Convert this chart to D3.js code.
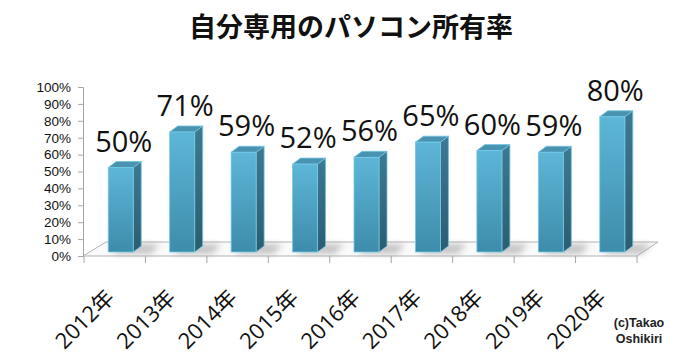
<!DOCTYPE html>
<html>
<head>
<meta charset="utf-8">
<script src="https://cdn.jsdelivr.net/npm/d3@7"></script>
<style>
  html, body { margin: 0; padding: 0; background: #fff; }
  svg { display: block; }
</style>
</head>
<body>
<svg id="chart"></svg>
<script>
// ── data ───────────────────────────────────────────────────────────────
const years  = ["2012年", "2013年", "2014年", "2015年", "2016年", "2017年", "2018年", "2019年", "2020年"];
const rates  = [50, 71, 59, 52, 56, 65, 60, 59, 80];
const yTicks = [0, 10, 20, 30, 40, 50, 60, 70, 80, 90, 100];
const title  = "自分専用のパソコン所有率";

const rows = years.map((y, i) => ({ year: y, rate: rates[i] }));

// ── geometry ───────────────────────────────────────────────────────────
const W = 700, H = 363;
const svg = d3.select("#chart").attr("width", W).attr("height", H);

const x = d3.scaleBand().domain(years).range([84, 637]).padding(0);
const y = d3.scaleLinear().domain([0, 100]).range([256, 87]);

const floorDx = 23, floorDy = 14;   // depth of the floor
const barW = 25, barDx = 8, barDy = 6, barLift = 4, barShift = 6;

const defs = svg.append("defs");

const front = defs.append("linearGradient").attr("id", "gFront")
    .attr("x1", 0).attr("y1", 0).attr("x2", 0).attr("y2", 1);
front.append("stop").attr("offset", "0%").attr("stop-color", "#5db6d8");
front.append("stop").attr("offset", "100%").attr("stop-color", "#3e8cab");

const side = defs.append("linearGradient").attr("id", "gSide")
    .attr("x1", 0).attr("y1", 0).attr("x2", 0).attr("y2", 1);
side.append("stop").attr("offset", "0%").attr("stop-color", "#3c7a93");
side.append("stop").attr("offset", "100%").attr("stop-color", "#2b5d70");

defs.append("filter").attr("id", "blur")
    .attr("x", "-50%").attr("y", "-50%").attr("width", "200%").attr("height", "200%")
  .append("feGaussianBlur").attr("stdDeviation", 3);

// ── title ──────────────────────────────────────────────────────────────
svg.append("text")
    .attr("x", 351).attr("y", 37)
    .attr("text-anchor", "middle")
    .style("font-family", "'Noto Sans CJK JP', sans-serif")
    .style("font-size", "27px")
    .style("font-weight", "bold")
    .attr("fill", "#111")
    .text(title);

// ── floor ──────────────────────────────────────────────────────────────
const [x0, x1] = x.range();
const y0 = y(0);
svg.append("polygon")
    .attr("points", [[x0 - 1, y0], [x0 - 1 + floorDx, y0 - floorDy], [x1 + floorDx - 2, y0 - floorDy], [x1, y0]].join(" "))
    .attr("fill", "#fafafa")
    .attr("stroke", "#b3b3b3")
    .attr("stroke-width", 1);

// bar shadows on the floor
svg.append("g").selectAll("polygon")
    .data(rows)
    .join("polygon")
    .attr("points", d => {
        const l = x(d.year) + x.bandwidth() / 2 + barShift - barW / 2;
        const b = y0 - barLift;
        return [[l + 4, b + 2], [l + barW + 18, b + 2], [l + barW + 26, b - 8], [l + 12, b - 8]].join(" ");
    })
    .attr("fill", "#9a9a9a")
    .attr("opacity", 0.55)
    .attr("filter", "url(#blur)");

// ── axes ───────────────────────────────────────────────────────────────
const yAxisG = svg.append("g")
    .attr("transform", `translate(${x0 - 1},0)`)
    .call(d3.axisLeft(y).tickValues(yTicks).tickSize(5).tickPadding(7).tickFormat(d => d + "%"));
yAxisG.selectAll("line,path").attr("stroke", "#a6a6a6");
yAxisG.selectAll("text")
    .attr("fill", "#111")
    .style("font-family", "'Liberation Sans', Arial, sans-serif")
    .style("font-size", "13.5px");

// x ticks at band boundaries
const bounds = years.map(d => x(d)).concat([x1]);
svg.append("g").selectAll("line")
    .data(bounds)
    .join("line")
    .attr("x1", d => d).attr("x2", d => d)
    .attr("y1", y0).attr("y2", y0 + 7)
    .attr("stroke", "#a6a6a6");

svg.append("g").selectAll("text")
    .data(years)
    .join("text")
    .attr("transform", d => `translate(${x(d) + x.bandwidth() / 2 + 1},${y0 + 43}) rotate(-45)`)
    .attr("text-anchor", "end")
    .style("font-family", "'Open Sans', 'Noto Sans CJK JP', sans-serif")
    .style("font-size", "22px")
    .attr("fill", "#111")
    .text(d => d);

// ── bars ───────────────────────────────────────────────────────────────
const bars = svg.append("g").selectAll("g")
    .data(rows)
    .join("g");

const geo = d => {
    const l = x(d.year) + x.bandwidth() / 2 + barShift - barW / 2;
    return { l, r: l + barW, t: y(d.rate) - barLift, b: y0 - barLift };
};

bars.append("polygon")   // side
    .attr("points", d => {
        const g = geo(d);
        return [[g.r, g.t], [g.r + barDx, g.t - barDy], [g.r + barDx, g.b - barDy], [g.r, g.b]].join(" ");
    })
    .attr("fill", "url(#gSide)")
    .attr("stroke", "#6fc3e2").attr("stroke-width", 0.8);

bars.append("polygon")   // top
    .attr("points", d => {
        const g = geo(d);
        return [[g.l, g.t], [g.l + barDx, g.t - barDy], [g.r + barDx, g.t - barDy], [g.r, g.t]].join(" ");
    })
    .attr("fill", "#4a93b0")
    .attr("stroke", "#6fc3e2").attr("stroke-width", 0.8);

bars.append("rect")      // front
    .attr("x", d => geo(d).l)
    .attr("y", d => geo(d).t)
    .attr("width", barW)
    .attr("height", d => geo(d).b - geo(d).t)
    .attr("fill", "url(#gFront)")
    .attr("stroke", "#74c8e6").attr("stroke-width", 0.8);

// value labels
bars.append("text")
    .attr("x", d => geo(d).l + barW / 2 + 3)
    .attr("y", d => geo(d).t - 16)
    .attr("text-anchor", "middle")
    .style("font-family", "'Open Sans', sans-serif")
    .style("font-size", "29px")
    .attr("fill", "#111")
    .text(d => d.rate + "%");

// ── credit ─────────────────────────────────────────────────────────────
const credit = svg.append("text")
    .attr("text-anchor", "middle")
    .style("font-family", "'Liberation Sans', Arial, sans-serif")
    .style("font-size", "12.5px")
    .style("font-weight", "bold")
    .attr("fill", "#222");
credit.append("tspan").attr("x", 639).attr("y", 327).text("(c)Takao");
credit.append("tspan").attr("x", 639).attr("y", 343).text("Oshikiri");
</script>
</body>
</html>
